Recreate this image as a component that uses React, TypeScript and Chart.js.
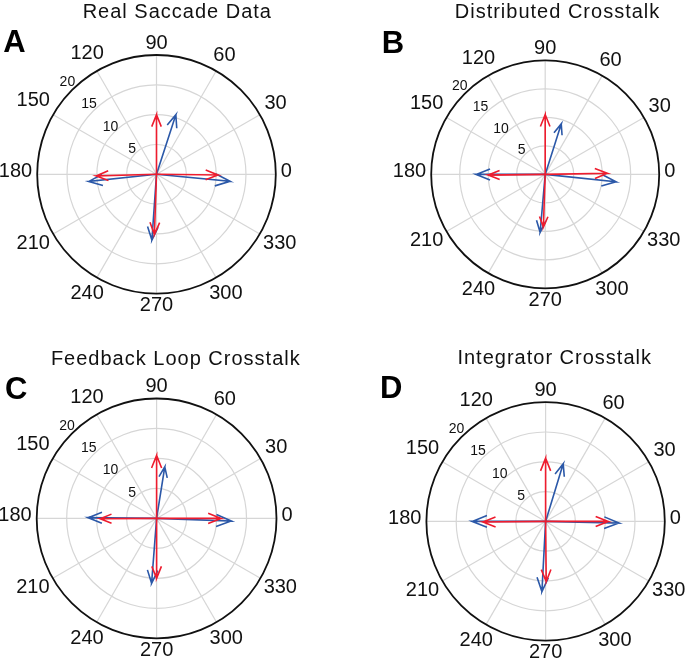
import React, { useEffect, useRef } from 'react';
import { Chart, registerables } from 'chart.js';

Chart.register(...registerables);

// ---------- data ----------
const RING_VALUES = [5, 10, 15];
const RADIUS_MAX = 20;
const RING_LABELS = ['5', '10', '15', '20'];
const SPOKE_ANGLES = [0, 30, 60, 90, 120, 150, 180, 210, 240, 270, 300, 330];
const ANGLE_LABELS = ['0', '30', '60', '90', '120', '150', '180', '210', '240', '270', '300', '330'];
const PANEL_TITLES = ['Real Saccade Data', 'Distributed Crosstalk', 'Feedback Loop Crosstalk', 'Integrator Crosstalk'];
const PANEL_LETTERS = ['A', 'B', 'C', 'D'];

// arrow directions (degrees) and lengths, order: right, up, left, down
const A_RED_ANGLES = [-0.6, 90, 181.6, 268];
const A_RED_LENGTHS = [10.3, 10.0, 10.1, 10.1];
const A_BLUE_ANGLES = [-5.5, 72, 186, 266];
const A_BLUE_LENGTHS = [12.4, 10.5, 11.4, 11.05];

const B_RED_ANGLES = [1, 90, 180.7, 268];
const B_RED_LENGTHS = [10.9, 10.5, 10.0, 9.25];
const B_BLUE_ANGLES = [-6, 72.4, 180, 265];
const B_BLUE_LENGTHS = [12.5, 9.3, 12.1, 10.2];

const C_RED_ANGLES = [0, 90, 180.3, 270];
const C_RED_LENGTHS = [10.75, 10.5, 9.4, 10.0];
const C_BLUE_ANGLES = [-2, 81, 179.4, 265.6];
const C_BLUE_LENGTHS = [12.45, 8.7, 11.4, 10.85];

const D_RED_ANGLES = [0, 90, 180.6, 270.6];
const D_RED_LENGTHS = [10.5, 10.6, 10.5, 10.1];
const D_BLUE_ANGLES = [-1.3, 73, 180, 267];
const D_BLUE_LENGTHS = [12.3, 10.1, 12.3, 11.8];

const RED = '#ee1c2e';
const BLUE = '#2b58a8';

// ---------- layout ----------
type Layout = {
  left: number; top: number; width: number; height: number;
  cx: number; cy: number; r: number;
  titleX: number; titleY: number;
  letterX: number; letterY: number;
};

const LAYOUTS: Layout[] = [
  { left: 0, top: 0, width: 345, height: 334, cx: 156.5, cy: 174.3, r: 119.3, titleX: 177.3, titleY: 17.7, letterX: 3.3, letterY: 51.7 },
  { left: 345, top: 0, width: 345, height: 334, cx: 545.2, cy: 174.4, r: 114, titleX: 557.5, titleY: 18.3, letterX: 381.7, letterY: 53.3 },
  { left: 0, top: 334, width: 345, height: 334, cx: 156.6, cy: 518.4, r: 119.9, titleX: 175.8, titleY: 364.7, letterX: 5, letterY: 399 },
  { left: 345, top: 334, width: 345, height: 334, cx: 545.6, cy: 521.4, r: 119.2, titleX: 554.7, titleY: 364, letterX: 380, letterY: 398.3 },
];

const PANEL_DATA = [
  { red: [A_RED_ANGLES, A_RED_LENGTHS], blue: [A_BLUE_ANGLES, A_BLUE_LENGTHS] },
  { red: [B_RED_ANGLES, B_RED_LENGTHS], blue: [B_BLUE_ANGLES, B_BLUE_LENGTHS] },
  { red: [C_RED_ANGLES, C_RED_LENGTHS], blue: [C_BLUE_ANGLES, C_BLUE_LENGTHS] },
  { red: [D_RED_ANGLES, D_RED_LENGTHS], blue: [D_BLUE_ANGLES, D_BLUE_LENGTHS] },
];

const FONT = '"Liberation Sans", Arial, Helvetica, sans-serif';

function arrowPoints(angleDeg: number, len: number) {
  const t = (angleDeg * Math.PI) / 180;
  const c = Math.cos(t);
  const s = Math.sin(t);
  const tip = { x: len * c, y: len * s };
  const bx = 0.8 * len * c;
  const by = 0.8 * len * s;
  const w = 0.08 * len;
  return [
    { x: 0, y: 0 },
    tip,
    { x: bx - w * s, y: by + w * c },
    { ...tip },
    { x: bx + w * s, y: by - w * c },
  ];
}

function makeDatasets(angles: number[], lengths: number[], color: string) {
  return angles.map((a, i) => ({
    data: arrowPoints(a, lengths[i]),
    showLine: true,
    borderColor: color,
    borderWidth: 1.6,
    pointRadius: 0,
    pointHoverRadius: 0,
    fill: false,
    tension: 0,
    clip: false as any,
  }));
}

function polarPlugin(idx: number, layout: Layout) {
  return {
    id: 'polarGrid' + idx,
    beforeDatasetsDraw(chart: any) {
      const ctx = chart.ctx as CanvasRenderingContext2D;
      const xs = chart.scales.x;
      const ys = chart.scales.y;
      const cx = xs.getPixelForValue(0);
      const cy = ys.getPixelForValue(0);
      const unit = xs.getPixelForValue(1) - cx;
      const R = RADIUS_MAX * unit;
      ctx.save();
      ctx.strokeStyle = '#d6d6d6';
      ctx.lineWidth = 1.2;
      RING_VALUES.forEach((v) => {
        ctx.beginPath();
        ctx.arc(cx, cy, v * unit, 0, Math.PI * 2);
        ctx.stroke();
      });
      SPOKE_ANGLES.forEach((a) => {
        const t = (a * Math.PI) / 180;
        ctx.beginPath();
        ctx.moveTo(cx, cy);
        ctx.lineTo(cx + R * Math.cos(t), cy - R * Math.sin(t));
        ctx.stroke();
      });
      ctx.strokeStyle = '#111';
      ctx.lineWidth = 1.8;
      ctx.beginPath();
      ctx.arc(cx, cy, R, 0, Math.PI * 2);
      ctx.stroke();

      // radial tick labels
      ctx.fillStyle = '#111';
      ctx.font = `14px ${FONT}`;
      ctx.textAlign = 'center';
      ctx.textBaseline = 'middle';
      const ta = (134 * Math.PI) / 180;
      RING_LABELS.forEach((lab, i) => {
        const v = (i + 1) * 5;
        const d = v * unit + 4 + 0.25 * v;
        ctx.fillText(lab, cx + d * Math.cos(ta), cy - d * Math.sin(ta));
      });
      ctx.restore();
    },
    afterDatasetsDraw(chart: any) {
      const ctx = chart.ctx as CanvasRenderingContext2D;
      const xs = chart.scales.x;
      const ys = chart.scales.y;
      const cx = xs.getPixelForValue(0);
      const cy = ys.getPixelForValue(0);
      const unit = xs.getPixelForValue(1) - cx;
      const R = RADIUS_MAX * unit;
      ctx.save();
      ctx.fillStyle = '#111';
      ctx.font = `20px ${FONT}`;
      ctx.textAlign = 'center';
      ctx.textBaseline = 'middle';
      const r0 = R + 5;
      const hh = 7;
      SPOKE_ANGLES.forEach((a, i) => {
        const lab = ANGLE_LABELS[i];
        const t = (a * Math.PI) / 180;
        const w = ctx.measureText(lab).width;
        const c = Math.cos(t);
        const s = Math.sin(t);
        const d = r0 + (w / 2) * Math.abs(c) + hh * Math.abs(s);
        const yShift = -(1 + 3 * c * c);
        ctx.fillText(lab, cx + d * c, cy - d * s + 1 + yShift);
      });

      // title
      const ox = layout.left;
      const oy = layout.top;
      ctx.textBaseline = 'alphabetic';
      ctx.font = `20px ${FONT}`;
      (ctx as any).letterSpacing = '1px';
      ctx.fillText(PANEL_TITLES[idx], layout.titleX - ox, layout.titleY - oy);
      (ctx as any).letterSpacing = '0px';

      // panel letter
      ctx.textAlign = 'left';
      ctx.font = `bold 31px ${FONT}`;
      ctx.fillStyle = '#000';
      ctx.fillText(PANEL_LETTERS[idx], layout.letterX - ox, layout.letterY - oy);
      ctx.restore();
    },
  };
}

function PolarPanel({ idx }: { idx: number }) {
  const ref = useRef<HTMLCanvasElement>(null);
  const layout = LAYOUTS[idx];
  useEffect(() => {
    if (!ref.current) return;
    const pd = PANEL_DATA[idx];
    const datasets = [
      ...makeDatasets(pd.red[0], pd.red[1], RED),
      ...makeDatasets(pd.blue[0], pd.blue[1], BLUE),
    ];
    const padding = {
      left: layout.cx - layout.r - layout.left,
      top: layout.cy - layout.r - layout.top,
      right: layout.left + layout.width - (layout.cx + layout.r),
      bottom: layout.top + layout.height - (layout.cy + layout.r),
    };
    const chart = new Chart(ref.current, {
      type: 'scatter',
      data: { datasets: datasets as any },
      options: {
        animation: false,
        responsive: false,
        maintainAspectRatio: false,
        devicePixelRatio: 1,
        events: [],
        layout: { padding },
        scales: {
          x: { type: 'linear', min: -RADIUS_MAX, max: RADIUS_MAX, display: false },
          y: { type: 'linear', min: -RADIUS_MAX, max: RADIUS_MAX, display: false },
        },
        plugins: {
          legend: { display: false },
          tooltip: { enabled: false },
          title: { display: false },
        },
      },
      plugins: [polarPlugin(idx, layout) as any],
    });
    return () => chart.destroy();
  }, [idx]);
  return (
    <canvas
      ref={ref}
      width={layout.width}
      height={layout.height}
      style={{ position: 'absolute', left: layout.left, top: layout.top, width: layout.width, height: layout.height }}
    />
  );
}

export default function App() {
  return (
    <div style={{ position: 'absolute', left: 0, top: 0, width: 690, height: 668, background: '#fff', overflow: 'hidden' }}>
      {[0, 1, 2, 3].map((i) => (
        <PolarPanel key={i} idx={i} />
      ))}
    </div>
  );
}
